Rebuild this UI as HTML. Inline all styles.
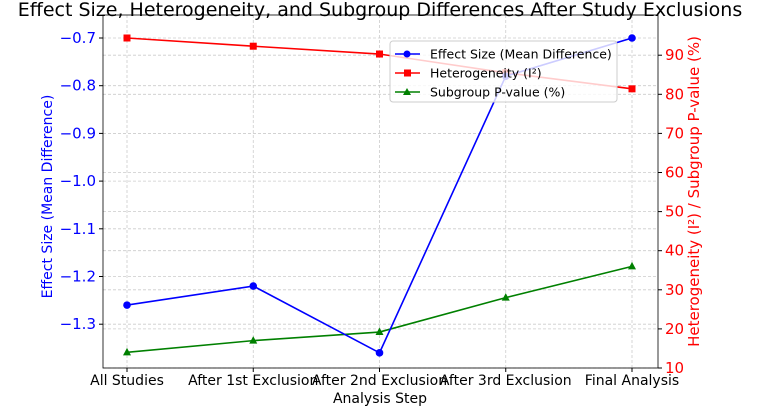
<!DOCTYPE html>
<html><head><meta charset="utf-8"><style>
body{margin:0;background:#fff;font-family:"DejaVu Sans","Liberation Sans",sans-serif}
</style></head><body>
<svg id="c" width="761" height="406" xmlns="http://www.w3.org/2000/svg" font-family="DejaVu Sans, Liberation Sans, sans-serif"></svg>
<script>
const categories=["All Studies","After 1st Exclusion","After 2nd Exclusion","After 3rd Exclusion","Final Analysis"];
const effectSize=[-1.26,-1.22,-1.36,-0.78,-0.70];
const heterogeneity=[94.4,92.3,90.3,85.5,81.4];
const subgroupP=[14,17,19.2,28,36];
const leftTicks=[-1.3,-1.2,-1.1,-1.0,-0.9,-0.8,-0.7];
const rightTicks=[10,20,30,40,50,60,70,80,90];
const svg=document.getElementById('c');const NS='http://www.w3.org/2000/svg';
function el(t,a,p){const e=document.createElementNS(NS,t);for(const k in a)e.setAttribute(k,a[k]);(p||svg).appendChild(e);return e;}
const L=103,R=658,T=15,B=368;
const x=i=>127+i*((632-127)/(categories.length-1));
const yl=v=>38+(-0.7-v)*477;
const yr=v=>368-(v-10)*3.91;
let g=el('g',{});
leftTicks.forEach(v=>el('line',{x1:L,x2:R,y1:yl(v),y2:yl(v),stroke:'#ccc','stroke-dasharray':'3,2','stroke-width':0.8},g));
rightTicks.forEach(v=>el('line',{x1:L,x2:R,y1:yr(v),y2:yr(v),stroke:'#ccc','stroke-dasharray':'3,2','stroke-width':0.8},g));
categories.forEach((c,i)=>el('line',{x1:x(i),x2:x(i),y1:T,y2:B,stroke:'#ccc','stroke-dasharray':'3,2','stroke-width':0.8},g));
let fr=el('rect',{x:L,y:T,width:R-L,height:B-T,fill:'none',stroke:'#000','stroke-width':0.8});

leftTicks.forEach(v=>{el('line',{x1:L-4,x2:L,y1:yl(v),y2:yl(v),stroke:'#000'});
 const t=el('text',{x:L-7,y:yl(v)+5,'text-anchor':'end','font-size':15,fill:'blue'});t.textContent=v.toFixed(1).replace('-','\u2212');
 });
rightTicks.forEach(v=>{el('line',{x1:R,x2:R+4,y1:yr(v),y2:yr(v),stroke:'#000'});
 const t=el('text',{x:R+7,y:yr(v)+5,'font-size':15,fill:'red'});t.textContent=v;
 });
categories.forEach((c,i)=>{el('line',{x1:x(i),x2:x(i),y1:B,y2:B+4,stroke:'#000'});
 const t=el('text',{x:x(i),y:B+17,'text-anchor':'middle','font-size':14});t.textContent=c;
 });
function series(vals,yf,col,shape,name){const sg=el('g',{});
 el('polyline',{points:vals.map((v,i)=>x(i)+','+yf(v)).join(' '),fill:'none',stroke:col,'stroke-width':1.6},sg);
 vals.forEach((v,i)=>{const cx=x(i),cy=yf(v);let m;
  if(shape==='c')m=el('circle',{cx,cy,r:3.8,fill:col},sg);
  else if(shape==='s')m=el('rect',{x:cx-3.5,y:cy-3.5,width:7,height:7,fill:col},sg);
  else m=el('polygon',{points:`${cx},${cy-4.5} ${cx-4},${cy+3} ${cx+4},${cy+3}`,fill:col},sg);
  });}
series(subgroupP,yr,'green','t','subgroup-series');
series(heterogeneity,yr,'red','s','heterogeneity-series');
series(effectSize,yl,'blue','c','effect-size-series');
const lg=el('g',{});
el('rect',{x:390,y:41,width:227,height:61,fill:'#fff','fill-opacity':0.8,stroke:'#ccc',rx:3},lg);
[['Effect Size (Mean Difference)','blue','c'],['Heterogeneity (I²)','red','s'],['Subgroup P-value (%)','green','t']].forEach((d,i)=>{
 const yy=54+i*19;el('line',{x1:395,x2:420,y1:yy,y2:yy,stroke:d[1],'stroke-width':1.6},lg);
 if(d[2]==='c')el('circle',{cx:407,cy:yy,r:3.5,fill:d[1]},lg);
 else if(d[2]==='s')el('rect',{x:404,y:yy-3.5,width:7,height:7,fill:d[1]},lg);
 else el('polygon',{points:`407,${yy-4} 403,${yy+3} 411,${yy+3}`,fill:d[1]},lg);
 const t=el('text',{x:430,y:yy+4.5,'font-size':12.5},lg);t.textContent=d[0];
 });
function txt(s,a,name){const t=el('text',a);t.textContent=s;}
txt('Effect Size, Heterogeneity, and Subgroup Differences After Study Exclusions',{x:380,y:16,'text-anchor':'middle','font-size':19},'chart-title');
txt('Analysis Step',{x:380,y:403,'text-anchor':'middle','font-size':14},'x-axis-title');
txt('Effect Size (Mean Difference)',{x:0,y:0,'text-anchor':'middle','font-size':14,fill:'blue',transform:`translate(52,${(T+B)/2+5}) rotate(-90)`},'left-axis-title');
txt('Heterogeneity (I²) / Subgroup P-value (%)',{x:0,y:0,'text-anchor':'middle','font-size':15,fill:'red',transform:`translate(699,${(T+B)/2}) rotate(-90)`},'right-axis-title');
</script></body></html>
